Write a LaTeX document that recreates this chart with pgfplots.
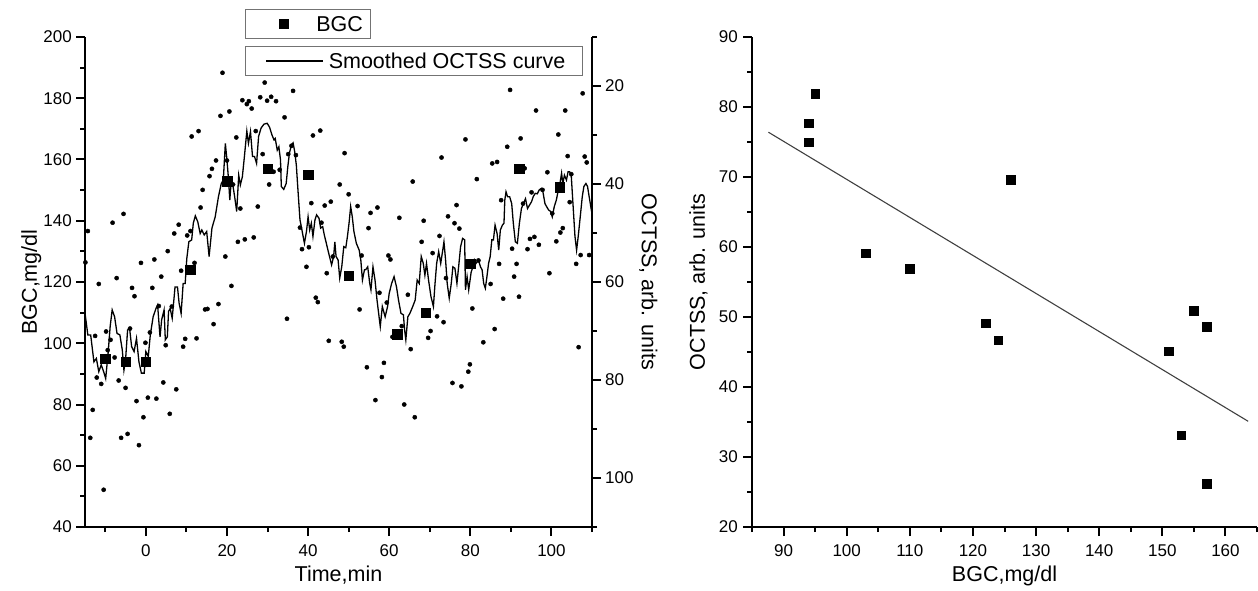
\documentclass[border=0pt]{standalone}
\usepackage{fontspec}
\setmainfont{Liberation Sans}
\usepackage{pgfplots}
\usepackage{pgfplotstable}
\pgfplotsset{compat=1.18}

\newcommand\tickfont{\fontsize{17}{20}\selectfont}
\newcommand\labfont{\fontsize{21.5}{25}\selectfont}

% raw OCTSS readings (time in min, OCTSS in arb. units)
\pgfplotstableread{
t O
-14.3 49.6
-14.9 56.0
-11.6 60.4
-8.2 47.9
-5.5 46.1
-7.2 59.2
-3.4 61.2
-2.8 62.9
-1.2 56.1
2.1 55.4
1.6 61.2
3.8 58.9
5.4 53.7
7.0 50.1
8.1 48.3
8.7 57.7
10.2 50.5
11.0 49.6
11.3 30.3
13.0 29.2
14.0 41.2
13.5 44.8
15.7 38.4
16.3 36.9
14.6 65.6
15.2 65.5
16.7 68.6
12.0 56.1
12.5 71.5
9.7 71.6
9.2 73.2
6.4 65.0
3.2 64.9
4.9 72.9
1.0 70.3
-0.1 72.4
-3.9 69.5
-8.7 71.8
-9.8 70.1
-12.5 71.0
-7.7 75.4
-9.4 73.9
-12.1 79.5
-11.0 80.8
-6.7 80.1
-5.0 81.6
-2.3 84.3
0.5 83.6
2.6 83.8
4.3 80.5
7.5 81.9
-0.6 87.6
5.9 86.9
-13.1 86.1
-13.7 91.8
-6.1 91.8
-4.5 91.0
-1.7 93.3
-10.4 102.4
18.9 17.3
29.3 19.3
36.3 21.0
23.8 22.9
24.9 23.7
25.4 23.1
26.1 24.6
28.2 22.3
29.9 23.0
30.9 22.2
32.1 23.1
18.4 26.1
20.6 25.2
34.2 26.4
22.3 30.5
27.1 29.2
17.3 35.2
20.0 35.2
28.8 33.9
30.4 40.1
31.5 37.5
27.6 44.6
23.3 45.0
21.5 40.1
33.0 37.1
35.1 33.9
35.9 32.2
37.0 34.1
41.2 30.1
43.0 29.1
49.0 33.7
47.8 40.1
45.6 43.6
44.1 44.4
40.8 43.9
43.3 47.9
38.0 48.9
22.7 51.8
24.4 51.3
26.6 50.9
38.5 53.3
40.2 52.9
19.6 54.8
39.6 56.9
44.6 58.2
46.1 54.8
21.1 60.8
17.9 64.5
41.9 63.2
42.4 64.1
34.8 67.5
45.1 72.0
48.3 72.2
48.8 73.2
78.8 30.9
72.9 34.6
65.8 39.5
50.0 42.1
52.2 44.5
57.1 44.8
55.4 45.9
54.9 49.0
62.5 46.9
68.5 47.5
76.6 44.3
74.5 46.6
76.1 48.0
77.3 49.1
72.4 50.6
68.0 51.8
70.7 54.1
59.8 54.6
60.3 55.4
53.2 54.6
74.0 59.2
64.6 62.6
57.6 62.2
52.7 65.6
59.4 64.2
71.8 67.0
73.4 68.2
70.2 70.0
69.6 71.4
65.3 73.7
58.7 76.5
54.5 77.4
58.2 79.4
56.6 84.1
63.7 85.0
66.3 87.6
75.6 80.6
77.8 81.3
79.9 76.8
79.5 78.3
63.1 69.0
60.8 71.2
89.8 20.8
107.7 21.5
96.2 25.0
103.4 25.0
92.4 30.7
101.7 29.9
89.1 32.4
104.0 34.3
108.2 34.4
108.7 35.6
85.4 35.8
86.6 35.5
81.6 39.0
99.0 37.6
93.4 36.8
95.1 41.7
97.8 41.2
87.6 43.3
93.0 44.0
104.9 38.0
104.5 43.7
100.2 46.0
102.8 49.0
102.2 49.9
101.2 51.7
94.7 51.2
95.8 50.8
96.9 52.4
94.1 53.3
90.3 53.2
107.2 54.5
109.3 54.5
106.1 56.3
87.1 56.3
91.4 56.3
90.8 58.9
99.5 58.2
82.0 55.6
85.0 60.4
88.1 63.4
92.0 63.0
80.5 65.4
86.0 69.6
83.2 72.3
106.7 73.3
}\rawoctss

% smoothed OCTSS curve
\pgfplotstableread{
t O
-15.1 65.7
-14.3 70.8
-13.6 70.8
-12.8 76.3
-12.2 75.6
-11.6 78.3
-11.0 76.9
-10.4 78.3
-9.9 79.7
-9.3 74.5
-8.8 69.1
-8.3 65.7
-7.7 67.1
-7.1 70.5
-6.4 70.8
-5.8 73.9
-5.4 78.0
-5.0 75.9
-4.5 69.8
-4.0 69.5
-3.5 73.2
-2.9 74.2
-2.3 71.5
-1.7 76.3
-1.1 78.6
-0.4 78.6
0.0 74.2
0.6 75.2
1.1 70.8
1.8 67.1
2.5 65.4
2.9 64.7
3.5 71.2
3.9 67.7
4.5 65.7
4.8 71.8
5.3 71.2
5.6 66.0
6.0 65.4
6.5 67.4
7.2 61.0
7.8 61.0
8.2 64.3
8.7 66.4
9.2 60.3
9.7 60.3
10.1 55.2
10.6 51.8
11.3 51.4
11.7 48.0
12.2 46.5
12.8 47.7
13.4 50.1
13.8 49.4
14.4 50.4
15.0 49.7
15.6 54.8
16.3 49.0
17.1 46.7
17.9 42.6
18.6 39.9
19.1 39.2
19.6 31.7
20.0 35.1
20.4 39.2
20.7 43.3
21.0 39.9
21.5 40.5
21.9 42.6
22.4 45.6
22.9 38.2
23.3 40.2
23.8 38.5
24.3 34.4
24.9 29.2
25.3 31.7
25.8 29.3
26.3 34.4
26.8 34.4
27.3 35.8
27.8 30.3
28.4 28.6
29.1 27.8
29.9 27.6
30.5 28.4
31.1 30.0
31.6 31.0
31.9 30.7
32.4 33.1
32.8 32.4
33.2 35.1
33.4 40.5
34.0 41.1
34.6 39.9
35.0 36.5
35.4 33.7
35.9 32.0
36.3 31.6
36.7 33.4
37.1 36.1
37.5 41.2
38.0 47.3
38.4 49.0
38.8 50.8
39.1 52.1
39.6 49.7
40.0 46.7
40.4 49.4
40.8 48.0
41.2 50.7
41.7 47.3
42.1 46.3
42.7 47.0
43.1 49.0
43.6 48.7
44.0 50.4
44.5 52.1
44.9 53.5
45.4 55.2
45.8 56.5
46.3 54.8
46.6 51.8
46.9 54.8
47.4 55.5
47.8 59.2
48.3 56.9
48.8 52.8
49.3 53.0
49.7 50.7
50.1 48.0
50.5 44.6
50.9 46.7
51.3 49.7
51.9 52.1
52.6 53.5
53.0 55.5
53.4 59.6
53.9 57.5
54.2 57.5
54.7 56.9
55.2 60.3
55.5 61.6
56.0 56.9
56.5 59.6
57.0 63.7
57.5 67.1
57.8 69.1
58.3 65.0
59.0 67.1
59.6 65.0
60.0 62.3
60.6 60.3
61.2 58.9
61.8 61.0
62.3 63.7
62.9 66.4
63.5 66.7
63.8 69.8
64.1 71.8
64.6 67.1
65.1 66.4
65.8 65.0
66.4 63.7
66.9 59.6
67.4 60.3
67.9 54.8
68.4 56.2
68.8 58.6
69.2 56.2
69.7 59.6
70.3 63.0
70.9 65.0
71.3 60.3
71.7 56.2
72.2 53.8
72.7 56.2
73.2 53.5
73.5 51.8
73.9 55.5
74.3 60.3
74.8 63.3
75.3 60.3
75.7 56.9
76.2 57.2
76.7 60.3
77.2 56.2
77.6 52.8
78.1 51.1
78.6 51.4
78.8 61.6
79.2 58.9
79.6 61.6
80.2 58.0
80.6 57.0
81.0 55.5
81.4 56.2
82.0 55.5
82.5 56.9
82.9 57.5
83.3 60.3
83.7 61.3
84.1 58.9
84.5 56.2
84.9 54.8
85.3 51.4
85.7 51.4
86.1 48.4
86.6 50.1
87.0 53.5
87.4 49.4
87.9 48.4
88.3 48.0
88.5 43.3
88.8 41.6
89.2 42.6
89.7 42.6
90.2 44.0
90.6 48.0
91.1 51.8
91.6 52.1
92.1 48.0
92.6 45.0
93.1 44.0
93.6 43.0
94.1 45.0
94.6 44.3
95.1 43.6
95.5 42.6
96.0 41.9
96.5 42.0
97.0 41.2
97.5 40.9
97.9 41.6
98.4 44.0
98.8 44.6
99.3 45.3
99.8 45.6
100.2 46.7
100.7 44.6
101.2 43.3
101.7 41.2
102.1 39.9
102.5 37.8
102.8 39.9
103.2 38.2
103.7 39.2
104.1 37.5
104.5 37.5
104.9 38.5
105.4 45.3
105.8 50.7
106.2 53.5
106.6 50.7
107.1 46.7
107.6 42.6
108.0 40.5
108.5 39.9
108.9 40.5
109.3 42.6
109.9 45.6
}\smoothoctss

\pgfplotsset{
  panel/.style={
    scale only axis,
    height=490pt,
    anchor=south west,
    tick align=outside,
    major tick length=9pt,
    minor tick length=5pt,
    tick style={black, line width=2pt},
    axis line style={line width=2.2pt},
    tick label style={font=\tickfont, inner sep=0pt},
    label style={font=\labfont},
    /pgf/number format/assume math mode=true,
    xticklabel style={anchor=base, yshift=-20.7pt},
    xlabel style={at={(axis description cs:0.5,-0.1122)}, anchor=base},
  },
}

\begin{document}
\begin{tikzpicture}
\useasboundingbox (0,0) rectangle (1258pt,590pt);

% (a) OCTSS on the right, reversed
\begin{axis}[
  panel, width=507pt, at={(85pt,63pt)},
  xmin=-15, xmax=110, ymin=10, ymax=110, y dir=reverse,
  hide x axis, axis y line*=right,
  ytick={20,40,60,80,100}, minor ytick={10,30,...,110},
  yticklabel style={anchor=west, xshift=4pt},
  ylabel={OCTSS, arb. units},
  ylabel style={at={(axis description cs:1.0986,0.5)}, anchor=base, rotate=180},
  legend style={at={(axis description cs:0.3156,0.9816)}, anchor=north west,
    draw=black!55, line width=0.9pt, font=\labfont,
    inner xsep=17pt, inner ysep=6.6pt, nodes={inner sep=0pt, text depth=0pt}},
  legend image code/.code={\path (0pt,0pt) (65pt,0pt);
    \draw[black, line width=1.3pt] (3pt,0pt) -- (60pt,0pt);},
]
\addplot[only marks, mark=*, mark size=2.1pt, black, forget plot] table[x=t, y=O] {\rawoctss};
\addplot[black, line width=1.3pt] table[x=t, y=O] {\smoothoctss};
\addlegendentry{Smoothed OCTSS curve}
\end{axis}

% (a) BGC on the left
\begin{axis}[
  panel, width=507pt, at={(85pt,63pt)},
  xmin=-15, xmax=110, ymin=40, ymax=200,
  axis x line*=bottom, axis y line*=left,
  xtick={0,20,...,100}, minor xtick={-10,10,...,110},
  ytick={40,60,...,200}, minor ytick={50,70,...,190},
  yticklabel style={anchor=east, xshift=-4pt},
  xlabel={Time,min}, ylabel={BGC,mg/dl},
  ylabel style={at={(axis description cs:-0.0947,0.5)}, anchor=base},
  legend style={at={(axis description cs:0.3156,1.0571)}, anchor=north west,
    draw=black!55, line width=0.9pt, font=\labfont,
    inner xsep=7pt, inner ysep=7pt, nodes={inner sep=0pt, text depth=0pt}},
  legend image code/.code={\path (0pt,0pt) (63pt,0pt);
    \draw plot coordinates {(31pt,0pt)};},
]
\addplot[only marks, mark=square*, mark size=4.8pt, black] coordinates {
  (-10,95) (-5,94) (0,94) (11,124) (20,153) (30,157) (40,155)
  (50,122) (62,103) (69,110) (80,126) (92,157) (102,151)};
\addlegendentry{BGC}
\node[font=\labfont, anchor=base] at (axis description cs:0.0513,1.0245) {(a)};
\end{axis}

% (b) OCTSS versus BGC
\begin{axis}[
  panel, width=505pt, at={(752pt,63pt)},
  xmin=85, xmax=165, ymin=20, ymax=90,
  axis x line*=bottom, axis y line*=left,
  xtick={90,100,...,160}, minor xtick={85,95,...,165},
  ytick={20,30,...,90}, minor ytick={25,35,...,85},
  yticklabel style={anchor=east, xshift=-5pt},
  xlabel={BGC,mg/dl}, ylabel={OCTSS, arb. units},
  ylabel style={at={(axis description cs:-0.0931,0.5)}, anchor=base},
]
\addplot[only marks, mark=square*, mark size=4.3pt, black] coordinates {
  (94,77.7) (94,75.0) (95,81.9) (103,59.1) (110,56.9) (122,49.1)
  (124,46.7) (126,69.6) (151,45.1) (153,33.1) (155,50.9) (157,48.6) (157,26.2)};
\addplot[black!75, line width=1.1pt] coordinates {(87.6,76.4) (163.6,35.1)};
\node[font=\labfont, anchor=base] at (axis description cs:0.0386,1.0245) {(b)};
\end{axis}
\end{tikzpicture}
\end{document}
